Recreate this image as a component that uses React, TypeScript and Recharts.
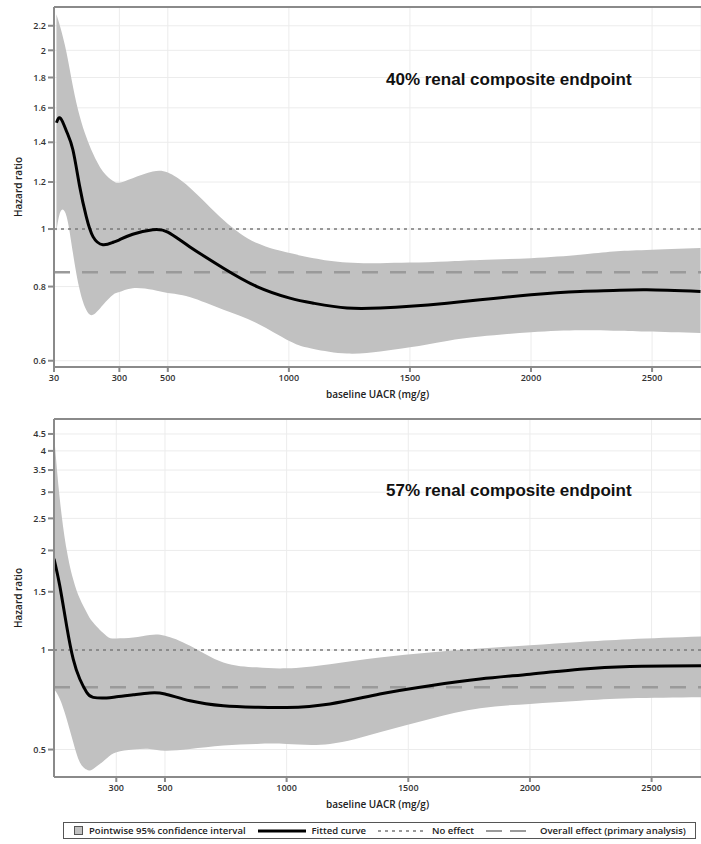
import React from 'react'
import {
  ComposedChart,
  Area,
  Line,
  XAxis,
  YAxis,
  CartesianGrid,
  ReferenceLine,
} from 'recharts'

// 40% renal composite endpoint: spline fit with pointwise 95% CI
const TOP_UACR = [40, 57, 82, 108, 136, 163, 191, 232, 274, 300, 355, 438, 500, 590, 730, 868, 1004, 1102, 1240, 1377, 1500, 1653, 1790, 2000, 2203, 2340, 2478, 2700]
const TOP_FIT = [1.51, 1.537, 1.46, 1.36, 1.18, 1.05, 0.971, 0.941, 0.95, 0.959, 0.98, 0.997, 0.988, 0.934, 0.859, 0.8, 0.765, 0.75, 0.736, 0.736, 0.741, 0.75, 0.76, 0.775, 0.785, 0.788, 0.79, 0.785]
const TOP_UPPER = [2.3, 2.18, 1.98, 1.74, 1.55, 1.43, 1.34, 1.25, 1.205, 1.197, 1.218, 1.25, 1.245, 1.175, 1.036, 0.947, 0.911, 0.893, 0.878, 0.876, 0.878, 0.882, 0.887, 0.893, 0.905, 0.9165, 0.922, 0.929]
const TOP_LOWER = [0.99, 1.07, 1.05, 0.912, 0.79, 0.731, 0.717, 0.745, 0.775, 0.783, 0.795, 0.79, 0.78, 0.768, 0.731, 0.694, 0.647, 0.628, 0.617, 0.622, 0.632, 0.648, 0.659, 0.67, 0.675, 0.674, 0.672, 0.668]
const TOP_OVERALL = 0.846

// 57% renal composite endpoint
const BOTTOM_UACR = [44, 68, 96, 123, 150, 178, 205, 260, 301, 370, 438, 500, 603, 740, 877, 1000, 1178, 1383, 1589, 1795, 2000, 2206, 2411, 2703]
const BOTTOM_FIT = [1.887, 1.56, 1.182, 0.938, 0.817, 0.745, 0.719, 0.716, 0.722, 0.732, 0.741, 0.736, 0.702, 0.678, 0.671, 0.67, 0.687, 0.736, 0.78, 0.817, 0.845, 0.875, 0.892, 0.896]
const BOTTOM_UPPER = [4.5, 2.85, 2.01, 1.634, 1.43, 1.3, 1.21, 1.103, 1.083, 1.09, 1.11, 1.105, 1.03, 0.917, 0.886, 0.88, 0.906, 0.949, 0.983, 1.01, 1.034, 1.058, 1.078, 1.098]
const BOTTOM_LOWER = [0.762, 0.711, 0.619, 0.526, 0.458, 0.435, 0.437, 0.47, 0.491, 0.5, 0.502, 0.496, 0.502, 0.514, 0.52, 0.52, 0.52, 0.564, 0.619, 0.666, 0.687, 0.702, 0.714, 0.719]
const BOTTOM_OVERALL = 0.771

const NO_EFFECT = 1

const TOP_X_TICKS = [30, 300, 500, 1000, 1500, 2000, 2500]
const BOTTOM_X_TICKS = [300, 500, 1000, 1500, 2000, 2500]
const TOP_Y_TICKS = [0.6, 0.8, 1, 1.2, 1.4, 1.6, 1.8, 2, 2.2]
const BOTTOM_Y_TICKS = [0.5, 1, 1.5, 2, 2.5, 3, 3.5, 4, 4.5]

const AXIS_GRAY = '#8a8a8a'
const BAND_FILL = '#c1c1c1'
const TICK_FONT = { fontSize: 9, fontFamily: 'Open Sans', fontWeight: 600, fill: '#333' }

interface PanelProps {
  title: string
  uacr: number[]
  fit: number[]
  lower: number[]
  upper: number[]
  overall: number
  xDomain: [number, number]
  yDomain: [number, number]
  xTicks: number[]
  yTicks: number[]
  height: number
  marginTop: number
  titleTop: number
}

function Panel(p: PanelProps) {
  const data = p.uacr.map((x, i) => ({ uacr: x, fit: p.fit[i], band: [p.lower[i], p.upper[i]] }))
  return (
    <div style={{ position: 'relative', width: 701, height: p.height }}>
      <ComposedChart
        width={701}
        height={p.height}
        data={data}
        margin={{ top: p.marginTop, right: 0, bottom: 0, left: 0 }}
      >
        <CartesianGrid stroke="#ececec" strokeWidth={1} />
        <XAxis
          dataKey="uacr"
          type="number"
          domain={p.xDomain}
          allowDataOverflow
          ticks={p.xTicks}
          interval={0}
          height={38}
          tickSize={5}
          tickMargin={3}
          tick={TICK_FONT}
          stroke={AXIS_GRAY}
          strokeWidth={2}
          label={{
            value: 'baseline UACR (mg/g)',
            position: 'insideBottom',
            offset: 7,
            style: { fontSize: 10, fontFamily: 'Open Sans', fontWeight: 600, fill: '#222' },
          }}
        />
        <YAxis
          type="number"
          scale="log"
          domain={p.yDomain}
          allowDataOverflow
          ticks={p.yTicks}
          interval={0}
          width={54}
          tickSize={6}
          tickMargin={2}
          tick={TICK_FONT}
          stroke={AXIS_GRAY}
          strokeWidth={2}
          label={{
            value: 'Hazard ratio',
            angle: -90,
            position: 'insideLeft',
            offset: 18,
            style: { fontSize: 10, fontFamily: 'Open Sans', fontWeight: 600, fill: '#222', textAnchor: 'middle' },
          }}
        />
        <Area
          dataKey="band"
          type="natural"
          fill={BAND_FILL}
          fillOpacity={1}
          stroke="none"
          isAnimationActive={false}
        />
        <ReferenceLine y={p.yDomain[1]} stroke={AXIS_GRAY} strokeWidth={2} />
        <ReferenceLine y={NO_EFFECT} stroke="#7a7a7a" strokeWidth={1.5} strokeDasharray="3 4" />
        <ReferenceLine y={p.overall} stroke="#9a9a9a" strokeWidth={2.5} strokeDasharray="16 12" />
        <Line
          dataKey="fit"
          type="natural"
          stroke="#000"
          strokeWidth={3}
          dot={false}
          isAnimationActive={false}
        />
      </ComposedChart>
      <div
        style={{
          position: 'absolute',
          left: 386,
          top: p.titleTop,
          fontFamily: 'Liberation Sans',
          fontWeight: 700,
          fontSize: 17,
          lineHeight: '20px',
          color: '#111',
          whiteSpace: 'nowrap',
        }}
      >
        {p.title}
      </div>
    </div>
  )
}

function LegendSwatchLine({ dash, color, width }: { dash?: string; color: string; width: number }) {
  return (
    <svg width={48} height={8} style={{ display: 'block' }}>
      <line x1={0} y1={4} x2={48} y2={4} stroke={color} strokeWidth={width} strokeDasharray={dash} />
    </svg>
  )
}

function Legend() {
  const text: React.CSSProperties = {
    fontFamily: 'Open Sans',
    fontWeight: 600,
    fontSize: 9.5,
    color: '#222',
    whiteSpace: 'nowrap',
  }
  return (
    <div
      style={{
        position: 'absolute',
        left: 63,
        top: 822,
        width: 633,
        height: 17,
        border: '1px solid #555',
        display: 'flex',
        alignItems: 'center',
        gap: 6,
        paddingLeft: 10,
        boxSizing: 'border-box',
      }}
    >
      <div style={{ width: 7, height: 7, background: BAND_FILL, border: '1px solid #555' }} />
      <span style={{ ...text, marginRight: 6 }}>Pointwise 95% confidence interval</span>
      <LegendSwatchLine color="#000" width={3} />
      <span style={{ ...text, marginRight: 6 }}>Fitted curve</span>
      <LegendSwatchLine color="#7a7a7a" width={1.5} dash="3 4" />
      <span style={{ ...text, marginRight: 6 }}>No effect</span>
      <LegendSwatchLine color="#9a9a9a" width={2} dash="16 8" />
      <span style={text}>Overall effect (primary analysis)</span>
    </div>
  )
}

export default function App() {
  return (
    <div style={{ position: 'absolute', left: 0, top: 0, width: 701, height: 844, background: '#fff' }}>
      <Panel
        title="40% renal composite endpoint"
        uacr={TOP_UACR}
        fit={TOP_FIT}
        lower={TOP_LOWER}
        upper={TOP_UPPER}
        overall={TOP_OVERALL}
        xDomain={[30, 2702]}
        yDomain={[0.5856, 2.366]}
        xTicks={TOP_X_TICKS}
        yTicks={TOP_Y_TICKS}
        height={405}
        marginTop={7}
        titleTop={70}
      />
      <Panel
        title="57% renal composite endpoint"
        uacr={BOTTOM_UACR}
        fit={BOTTOM_FIT}
        lower={BOTTOM_LOWER}
        upper={BOTTOM_UPPER}
        overall={BOTTOM_OVERALL}
        xDomain={[44, 2703]}
        yDomain={[0.413, 4.994]}
        xTicks={BOTTOM_X_TICKS}
        yTicks={BOTTOM_Y_TICKS}
        height={410}
        marginTop={14}
        titleTop={76}
      />
      <Legend />
    </div>
  )
}
